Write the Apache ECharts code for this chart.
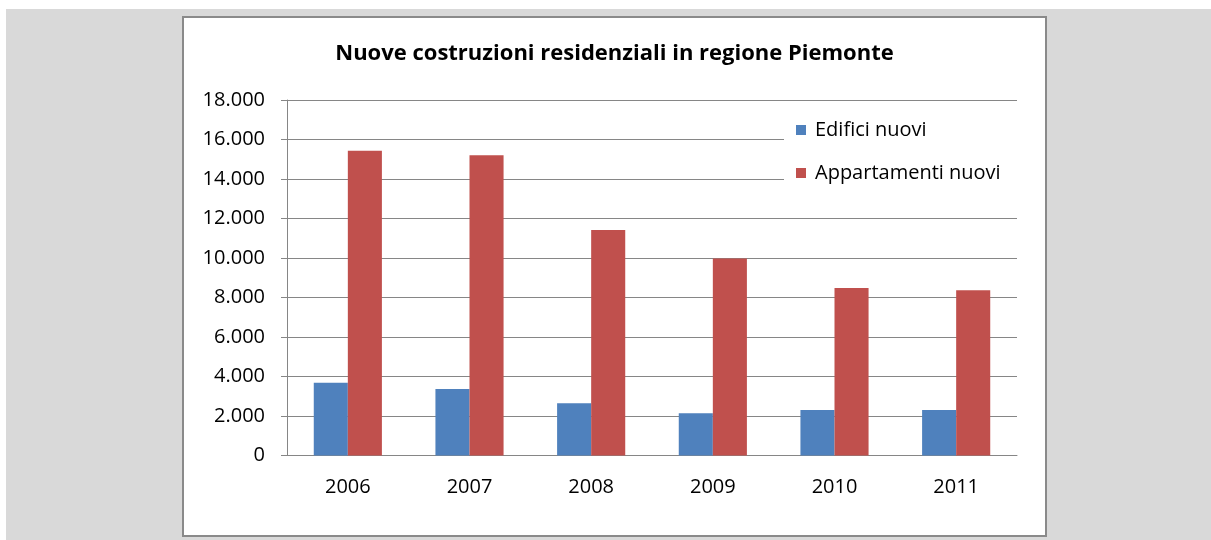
<!DOCTYPE html>
<html>
<head>
<meta charset="utf-8">
<script src="https://cdn.jsdelivr.net/npm/echarts@6/dist/echarts.min.js"></script>
<style>
  html, body { margin: 0; padding: 0; background: #fff; }
  .sfondo {
    position: absolute; left: 6px; top: 9px; width: 1205px; height: 531px;
    background: #d9d9d9;
  }
  .pannello {
    position: absolute; left: 182px; top: 16px; width: 861px; height: 517px;
    border: 2px solid #8a8a8a; background: #fff;
  }
  #chart { width: 861px; height: 517px; }
</style>
</head>
<body>
<div class="sfondo"></div>
<div class="pannello"><div id="chart"></div></div>
<script>
// dati
var anni = ["2006", "2007", "2008", "2009", "2010", "2011"];
var edificiNuovi = [3680, 3370, 2650, 2140, 2310, 2310];
var appartamentiNuovi = [15430, 15200, 11420, 9970, 8480, 8370];
var tickY = ["0", "2.000", "4.000", "6.000", "8.000", "10.000", "12.000", "14.000", "16.000", "18.000"];

var chart = echarts.init(document.getElementById("chart"));
var grigio = "#868686";
var option = {
  animation: false,
  textStyle: { fontFamily: "Open Sans" },
  title: {
    text: "Nuove costruzioni residenziali in regione Piemonte",
    left: "center",
    top: 20,
    textStyle: { fontSize: 22, fontWeight: "bold", color: "#000", fontFamily: "Open Sans" }
  },
  legend: {
    orient: "vertical",
    left: 600,
    top: 88,
    icon: "rect",
    itemWidth: 10,
    itemHeight: 10,
    itemGap: 23,
    padding: [14, 22, 14, 12],
    backgroundColor: "#fff",
    textStyle: { fontSize: 20, color: "#000", padding: [0, 0, 0, 4] },
    data: ["Edifici nuovi", "Appartamenti nuovi"]
  },
  grid: { left: 103, top: 82, width: 730, height: 355.5, containLabel: false },
  xAxis: {
    type: "category",
    data: anni,
    axisLine: { lineStyle: { color: grigio } },
    axisTick: { length: 5, lineStyle: { color: grigio } },
    axisLabel: { fontSize: 20, color: "#000", margin: 22 }
  },
  yAxis: {
    type: "value",
    min: 0,
    max: 18000,
    interval: 2000,
    axisLine: { show: true, lineStyle: { color: grigio } },
    axisTick: { show: true, length: 6, lineStyle: { color: grigio } },
    splitLine: { lineStyle: { color: grigio } },
    axisLabel: {
      fontSize: 20, color: "#000", margin: 22,
      formatter: function (v) { return tickY[v / 2000]; }
    }
  },
  series: [
    {
      name: "Edifici nuovi",
      type: "bar",
      data: edificiNuovi,
      barGap: "0%",
      barCategoryGap: "44%",
      itemStyle: { color: "#4f81bd" }
    },
    {
      name: "Appartamenti nuovi",
      type: "bar",
      data: appartamentiNuovi,
      itemStyle: { color: "#c0504d" }
    }
  ]
};
chart.setOption(option);
</script>
</body>
</html>
